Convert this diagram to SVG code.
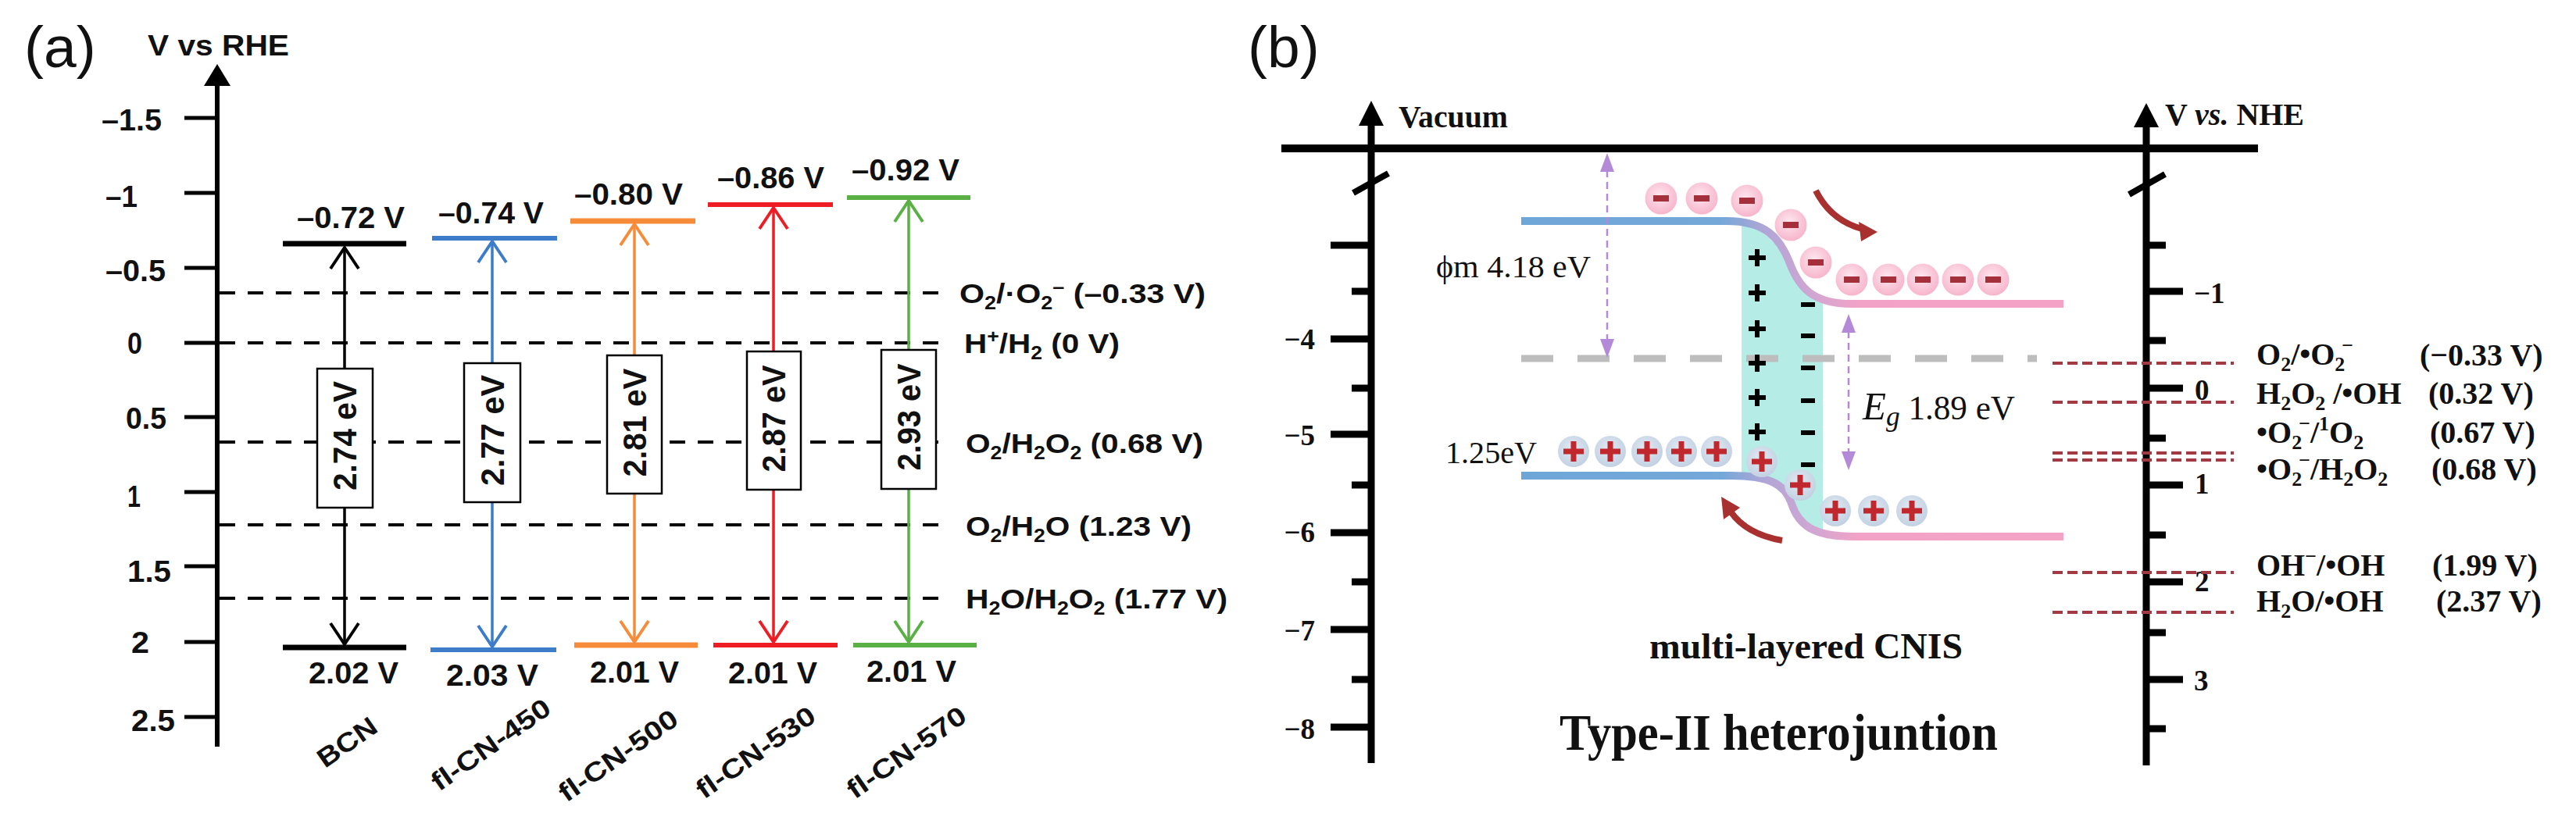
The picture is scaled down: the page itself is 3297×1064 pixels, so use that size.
<svg xmlns="http://www.w3.org/2000/svg" width="3297" height="1064" viewBox="0 0 3297 1064">
<defs>
<style>
.sa{font-family:"Liberation Sans",Arial,sans-serif;font-weight:bold;fill:#111}
.sr{font-family:"Liberation Sans",Arial,sans-serif;fill:#111}
.tb{font-family:"Liberation Serif","Times New Roman",serif;font-weight:bold;fill:#111}
.tr{font-family:"Liberation Serif","Times New Roman",serif;fill:#111}
.axa{stroke:#000;stroke-width:6;fill:none}
.ticka{stroke:#000;stroke-width:5;fill:none}
.ref{stroke:#000;stroke-width:4;stroke-dasharray:20 16;fill:none}
.box{fill:#fff;stroke:#000;stroke-width:2.5}
.shaft{stroke-width:3.5;fill:none}
.chev{stroke-width:4;fill:none;stroke-linejoin:miter}
.axb{stroke:#000;stroke-width:9;fill:none}
.tickb{stroke:#000;stroke-width:9;fill:none}
.rdash{stroke:#a23a44;stroke-width:4;stroke-dasharray:13 6;fill:none}
.pdash{stroke:#b48ad8;stroke-width:2.5;stroke-dasharray:9 6;fill:none}
.phead{fill:#b48ad8}
.band{stroke:url(#bandgrad);stroke-width:10;fill:none}
.redarrow{stroke:#a8302f;stroke-width:8;fill:none}
</style>
<linearGradient id="bandgrad" gradientUnits="userSpaceOnUse" x1="1947" y1="0" x2="2641" y2="0">
<stop offset="0" stop-color="#6fa6d8"/>
<stop offset="0.37" stop-color="#74a8d9"/>
<stop offset="0.45" stop-color="#b0a6d6"/>
<stop offset="0.55" stop-color="#d6a6d2"/>
<stop offset="0.62" stop-color="#f2a2c6"/>
<stop offset="1" stop-color="#f4a3c6"/>
</linearGradient>
<radialGradient id="egrad" cx="0.45" cy="0.4" r="0.6">
<stop offset="0" stop-color="#fde6ee"/>
<stop offset="1" stop-color="#f7b5cc"/>
</radialGradient>
<radialGradient id="hgrad" cx="0.45" cy="0.4" r="0.6">
<stop offset="0" stop-color="#e3eaf2"/>
<stop offset="1" stop-color="#c2d1e3"/>
</radialGradient>
<g id="electron">
<circle cx="0" cy="0" r="20.5" fill="url(#egrad)"/>
<rect x="-10" y="-4" width="20" height="8" fill="#a3303b"/>
</g>
<g id="hole">
<circle cx="0" cy="0" r="20" fill="url(#hgrad)"/>
<rect x="-13" y="-3.5" width="26" height="7" fill="#c0282e"/>
<rect x="-3.5" y="-13" width="7" height="26" fill="#c0282e"/>
</g>
<path id="bplus" d="M-11,0 H11 M0,-11 V11" stroke="#000" stroke-width="6" fill="none"/>
<path id="bminus" d="M-9,0 H9" stroke="#000" stroke-width="6" fill="none"/>
</defs>

<rect x="0" y="0" width="3297" height="1064" fill="#fff"/>

<!-- ===================== Panel (a) ===================== -->
<g id="panel-a-label"><text class="sr" x="31" y="86" font-size="75">(a)</text></g>

<g id="a-axis">
<path class="axa" d="M278,104 V956"/>
<polygon points="278,82 261,110 295,110" fill="#000"/>
<path class="ticka" d="M236,151 H278 M236,247 H278 M236,343 H278 M236,439 H278 M236,534 H278 M236,630 H278 M236,725 H278 M236,822 H278 M236,918 H278"/>
<text class="sa" x="189" y="71" font-size="36" textLength="181" lengthAdjust="spacingAndGlyphs">V vs RHE</text>
<g class="sa" font-size="38">
<text x="130" y="167" textLength="77" lengthAdjust="spacingAndGlyphs">–1.5</text>
<text x="135" y="265" textLength="41" lengthAdjust="spacingAndGlyphs">–1</text>
<text x="135" y="360" textLength="77" lengthAdjust="spacingAndGlyphs">–0.5</text>
<text x="163" y="453" textLength="19" lengthAdjust="spacingAndGlyphs">0</text>
<text x="161" y="549" textLength="52" lengthAdjust="spacingAndGlyphs">0.5</text>
<text x="163" y="649" textLength="17" lengthAdjust="spacingAndGlyphs">1</text>
<text x="163" y="745" textLength="56" lengthAdjust="spacingAndGlyphs">1.5</text>
<text x="168" y="836" textLength="23" lengthAdjust="spacingAndGlyphs">2</text>
<text x="168" y="936" textLength="56" lengthAdjust="spacingAndGlyphs">2.5</text>
</g>
</g>

<g id="a-ref-levels">
<g id="ref-O2-O2rad">
<path class="ref" d="M281,375 H1215"/>
<text class="sa" x="1228" y="388" font-size="35" textLength="315" lengthAdjust="spacingAndGlyphs">O<tspan dy="8" font-size="23">2</tspan><tspan dy="-8">/·O</tspan><tspan dy="8" font-size="23">2</tspan><tspan dy="-21" font-size="23">–</tspan><tspan dy="13"> (–0.33 V)</tspan></text>
</g>
<g id="ref-H-H2">
<path class="ref" d="M281,439 H1215"/>
<text class="sa" x="1234" y="452" font-size="35" textLength="199" lengthAdjust="spacingAndGlyphs">H<tspan dy="-13" font-size="23">+</tspan><tspan dy="13">/H</tspan><tspan dy="8" font-size="23">2</tspan><tspan dy="-8"> (0 V)</tspan></text>
</g>
<g id="ref-O2-H2O2">
<path class="ref" d="M281,566 H1215"/>
<text class="sa" x="1236" y="580" font-size="35" textLength="304" lengthAdjust="spacingAndGlyphs">O<tspan dy="8" font-size="23">2</tspan><tspan dy="-8">/H</tspan><tspan dy="8" font-size="23">2</tspan><tspan dy="-8">O</tspan><tspan dy="8" font-size="23">2</tspan><tspan dy="-8"> (0.68 V)</tspan></text>
</g>
<g id="ref-O2-H2O">
<path class="ref" d="M281,672 H1215"/>
<text class="sa" x="1236" y="686" font-size="35" textLength="289" lengthAdjust="spacingAndGlyphs">O<tspan dy="8" font-size="23">2</tspan><tspan dy="-8">/H</tspan><tspan dy="8" font-size="23">2</tspan><tspan dy="-8">O (1.23 V)</tspan></text>
</g>
<g id="ref-H2O-H2O2">
<path class="ref" d="M281,766 H1215"/>
<text class="sa" x="1236" y="779" font-size="35" textLength="335" lengthAdjust="spacingAndGlyphs">H<tspan dy="8" font-size="23">2</tspan><tspan dy="-8">O/H</tspan><tspan dy="8" font-size="23">2</tspan><tspan dy="-8">O</tspan><tspan dy="8" font-size="23">2</tspan><tspan dy="-8"> (1.77 V)</tspan></text>
</g>
</g>

<g id="col-BCN" stroke="#000">
<path d="M362,312 H520 M362,829 H520" stroke-width="7"/>
<path class="shaft" d="M441,472 V317 M441,650 V825"/>
<path class="chev" d="M423,344 L441,317 L459,344 M423,798 L441,825 L459,798"/>
<rect class="box" x="406" y="472" width="71" height="178"/>
<g stroke="none">
<text class="sa" transform="translate(441,558) rotate(-90)" x="0" y="15" text-anchor="middle" font-size="42" textLength="140" lengthAdjust="spacingAndGlyphs">2.74 eV</text>
<text class="sa" x="380" y="292" font-size="39" textLength="138" lengthAdjust="spacingAndGlyphs">–0.72 V</text>
<text class="sa" x="395" y="875" font-size="39" textLength="115" lengthAdjust="spacingAndGlyphs">2.02 V</text>
<text class="sa" transform="translate(444,950) rotate(-35)" x="0" y="12" text-anchor="middle" font-size="34" textLength="85" lengthAdjust="spacingAndGlyphs">BCN</text>
</g>
</g>

<g id="col-fl-CN-450" stroke="#3d7cc9">
<path d="M553,305 H713 M551,832 H712" stroke-width="6"/>
<path class="shaft" d="M630,465 V309 M630,643 V828"/>
<path class="chev" d="M612,336 L630,309 L648,336 M612,801 L630,828 L648,801"/>
<rect class="box" x="594" y="465" width="72" height="178"/>
<g stroke="none">
<text class="sa" transform="translate(630,551) rotate(-90)" x="0" y="15" text-anchor="middle" font-size="42" textLength="142" lengthAdjust="spacingAndGlyphs">2.77 eV</text>
<text class="sa" x="561" y="286" font-size="39" textLength="135" lengthAdjust="spacingAndGlyphs">–0.74 V</text>
<text class="sa" x="571" y="878" font-size="39" textLength="118" lengthAdjust="spacingAndGlyphs">2.03 V</text>
<text class="sa" transform="translate(628,953) rotate(-35)" x="0" y="12" text-anchor="middle" font-size="34" textLength="178" lengthAdjust="spacingAndGlyphs">fl-CN-450</text>
</g>
</g>

<g id="col-fl-CN-500" stroke="#f68b3a">
<path d="M730,283 H890 M735,826 H893" stroke-width="7"/>
<path class="shaft" d="M812,455 V287 M812,632 V822"/>
<path class="chev" d="M794,314 L812,287 L830,314 M794,795 L812,822 L830,795"/>
<rect class="box" x="777" y="455" width="70" height="177"/>
<g stroke="none">
<text class="sa" transform="translate(812,541) rotate(-90)" x="0" y="15" text-anchor="middle" font-size="42" textLength="139" lengthAdjust="spacingAndGlyphs">2.81 eV</text>
<text class="sa" x="735" y="262" font-size="39" textLength="139" lengthAdjust="spacingAndGlyphs">–0.80 V</text>
<text class="sa" x="755" y="874" font-size="39" textLength="114" lengthAdjust="spacingAndGlyphs">2.01 V</text>
<text class="sa" transform="translate(791,967) rotate(-35)" x="0" y="12" text-anchor="middle" font-size="34" textLength="178" lengthAdjust="spacingAndGlyphs">fl-CN-500</text>
</g>
</g>

<g id="col-fl-CN-530" stroke="#ee1d23">
<path d="M906,262 H1066 M913,826 H1072" stroke-width="6"/>
<path class="shaft" d="M990,450 V266 M990,627 V822"/>
<path class="chev" d="M972,293 L990,266 L1008,293 M972,795 L990,822 L1008,795"/>
<rect class="box" x="956" y="450" width="69" height="177"/>
<g stroke="none">
<text class="sa" transform="translate(990,536) rotate(-90)" x="0" y="15" text-anchor="middle" font-size="42" textLength="137" lengthAdjust="spacingAndGlyphs">2.87 eV</text>
<text class="sa" x="918" y="241" font-size="39" textLength="137" lengthAdjust="spacingAndGlyphs">–0.86 V</text>
<text class="sa" x="932" y="875" font-size="39" textLength="114" lengthAdjust="spacingAndGlyphs">2.01 V</text>
<text class="sa" transform="translate(967,963) rotate(-35)" x="0" y="12" text-anchor="middle" font-size="34" textLength="178" lengthAdjust="spacingAndGlyphs">fl-CN-530</text>
</g>
</g>

<g id="col-fl-CN-570" stroke="#5aaf45">
<path d="M1084,253 H1242 M1092,826 H1250" stroke-width="6"/>
<path class="shaft" d="M1163,448 V257 M1163,626 V822"/>
<path class="chev" d="M1145,284 L1163,257 L1181,284 M1145,795 L1163,822 L1181,795"/>
<rect class="box" x="1128" y="448" width="70" height="178"/>
<g stroke="none">
<text class="sa" transform="translate(1163,534) rotate(-90)" x="0" y="15" text-anchor="middle" font-size="42" textLength="137" lengthAdjust="spacingAndGlyphs">2.93 eV</text>
<text class="sa" x="1090" y="231" font-size="39" textLength="138" lengthAdjust="spacingAndGlyphs">–0.92 V</text>
<text class="sa" x="1109" y="873" font-size="39" textLength="115" lengthAdjust="spacingAndGlyphs">2.01 V</text>
<text class="sa" transform="translate(1160,963) rotate(-35)" x="0" y="12" text-anchor="middle" font-size="34" textLength="178" lengthAdjust="spacingAndGlyphs">fl-CN-570</text>
</g>
</g>

<!-- ===================== Panel (b) ===================== -->
<g id="panel-b-label"><text class="sr" x="1597" y="86" font-size="75">(b)</text></g>

<g id="b-vacuum-axis">
<path class="axb" d="M1755,156 V977"/>
<polygon points="1755,129 1739,161 1771,161" fill="#000"/>
<path d="M1640,190 H2890" stroke="#000" stroke-width="10"/>
<path d="M1732,247 L1777,222" stroke="#000" stroke-width="8"/>
<path class="tickb" d="M1703,314 H1755 M1703,434 H1755 M1703,556 H1755 M1703,682 H1755 M1703,806 H1755 M1703,931 H1755"/>
<path class="tickb" d="M1730,373 H1755 M1730,497 H1755 M1730,621 H1755 M1730,745 H1755 M1730,870 H1755"/>
<text class="tb" x="1790" y="163" font-size="39" textLength="140" lengthAdjust="spacingAndGlyphs">Vacuum</text>
<g class="tb" font-size="37" text-anchor="end">
<text x="1683" y="447">−4</text>
<text x="1683" y="570">−5</text>
<text x="1683" y="694">−6</text>
<text x="1683" y="820">−7</text>
<text x="1683" y="946">−8</text>
</g>
</g>

<g id="b-nhe-axis">
<path class="axb" d="M2747,158 V980"/>
<polygon points="2747,132 2731,163 2763,163" fill="#000"/>
<path d="M2725,249 L2771,223" stroke="#000" stroke-width="8"/>
<path class="tickb" d="M2747,373 H2794 M2747,497 H2794 M2747,621 H2794 M2747,745 H2794 M2747,870 H2794"/>
<path class="tickb" d="M2747,314 H2772 M2747,436 H2772 M2747,561 H2772 M2747,685 H2772 M2747,810 H2772 M2747,933 H2772"/>
<text class="tb" x="2771" y="160" font-size="39" textLength="178" lengthAdjust="spacingAndGlyphs">V <tspan font-style="italic">vs.</tspan> NHE</text>
<g class="tb" font-size="37">
<text x="2808" y="388">−1</text>
<text x="2809" y="512">0</text>
<text x="2809" y="632">1</text>
<text x="2809" y="757">2</text>
<text x="2808" y="884">3</text>
</g>
</g>

<g id="b-junction">
<path id="depletion" d="M2229,287 C2255,292 2275,310 2288,335 C2300,362 2312,378 2333,383 L2333,680 C2318,676 2305,668 2296,652 C2285,625 2265,612 2229,609 Z" fill="#b5ece6"/>
<path id="fermi" d="M1947,459 H2607" stroke="#bdbdbd" stroke-width="9" stroke-dasharray="41 31"/>
<path id="cb" class="band" d="M1947,283 L2210,283 C2260,283 2278,305 2290,335 C2302,368 2320,389 2370,389 L2641,389"/>
<path id="vb" class="band" d="M1947,609 L2215,609 C2265,609 2285,620 2293,645 C2302,672 2320,687 2373,687 L2641,687"/>
<g id="space-charge">
<use href="#bplus" x="2249" y="330"/>
<use href="#bplus" x="2249" y="375"/>
<use href="#bplus" x="2249" y="421"/>
<use href="#bplus" x="2249" y="465"/>
<use href="#bplus" x="2249" y="509"/>
<use href="#bplus" x="2249" y="553"/>
<use href="#bminus" x="2314" y="390"/>
<use href="#bminus" x="2314" y="430"/>
<use href="#bminus" x="2314" y="471"/>
<use href="#bminus" x="2314" y="513"/>
<use href="#bminus" x="2314" y="554"/>
<use href="#bminus" x="2314" y="595"/>
</g>
<g id="electrons">
<use href="#electron" x="2126" y="254"/>
<use href="#electron" x="2178" y="254"/>
<use href="#electron" x="2236" y="257"/>
<use href="#electron" x="2292" y="288"/>
<use href="#electron" x="2324" y="336"/>
<use href="#electron" x="2370" y="358"/>
<use href="#electron" x="2417" y="358"/>
<use href="#electron" x="2461" y="358"/>
<use href="#electron" x="2506" y="358"/>
<use href="#electron" x="2551" y="358"/>
</g>
<g id="holes">
<use href="#hole" x="2014" y="578"/>
<use href="#hole" x="2061" y="578"/>
<use href="#hole" x="2108" y="578"/>
<use href="#hole" x="2152" y="578"/>
<use href="#hole" x="2197" y="578"/>
<use href="#hole" x="2255" y="591"/>
<use href="#hole" x="2304" y="621"/>
<use href="#hole" x="2349" y="654"/>
<use href="#hole" x="2398" y="654"/>
<use href="#hole" x="2447" y="654"/>
</g>
<g id="phi-arrow">
<path class="pdash" d="M2057,218 V436"/>
<polygon class="phead" points="2057,196 2048,220 2066,220"/>
<polygon class="phead" points="2057,458 2048,434 2066,434"/>
</g>
<g id="eg-arrow">
<path class="pdash" d="M2366,424 V580"/>
<polygon class="phead" points="2366,402 2357,426 2375,426"/>
<polygon class="phead" points="2366,602 2357,578 2375,578"/>
</g>
<g id="transfer-arrows">
<path class="redarrow" d="M2324,244 Q2343,282 2383,293"/>
<polygon points="2403,297 2379,284 2382,309" fill="#a8302f"/>
<path class="redarrow" d="M2281,692 Q2235,684 2215,655"/>
<polygon points="2203,636 2227,650 2206,665" fill="#a8302f"/>
</g>
<text class="tr" x="1838" y="355" font-size="40" textLength="198" lengthAdjust="spacingAndGlyphs">ϕm 4.18 eV</text>
<text class="tr" x="2384" y="537" textLength="195" lengthAdjust="spacingAndGlyphs"><tspan font-style="italic" font-size="50">E</tspan><tspan font-style="italic" font-size="36" dy="8">g</tspan><tspan dy="-8" font-size="44"> 1.89 eV</tspan></text>
<text class="tr" x="1850" y="593" font-size="40" textLength="117" lengthAdjust="spacingAndGlyphs">1.25eV</text>
<text class="tb" x="2111" y="843" font-size="46" textLength="401" lengthAdjust="spacingAndGlyphs">multi-layered CNIS</text>
<text class="tb" x="1996" y="960" font-size="66" textLength="561" lengthAdjust="spacingAndGlyphs">Type-II heterojuntion</text>
</g>

<g id="b-redox-levels">
<g id="lvl-O2-O2rad">
<path class="rdash" d="M2627,465 H2859"/>
<text class="tb" x="2888" y="467" font-size="40">O<tspan dy="8" font-size="26">2</tspan><tspan dy="-8">/•O</tspan><tspan dy="8" font-size="26">2</tspan><tspan dx="-4" dy="-24" font-size="26">−</tspan></text>
<text class="tb" x="3097" y="468" font-size="40">(−0.33 V)</text>
</g>
<g id="lvl-H2O2-OH">
<path class="rdash" d="M2627,515 H2859"/>
<text class="tb" x="2888" y="517" font-size="40">H<tspan dy="8" font-size="26">2</tspan><tspan dy="-8">O</tspan><tspan dy="8" font-size="26">2</tspan><tspan dy="-8"> /•OH</tspan></text>
<text class="tb" x="3108" y="517" font-size="40">(0.32 V)</text>
</g>
<g id="lvl-O2rad-1O2">
<path class="rdash" d="M2627,580 H2859"/>
<text class="tb" x="2888" y="567" font-size="40">•O<tspan dy="8" font-size="26">2</tspan><tspan dx="-4" dy="-24" font-size="26">−</tspan><tspan dy="16">/</tspan><tspan dy="-16" font-size="26">1</tspan><tspan dy="16">O</tspan><tspan dy="8" font-size="26">2</tspan></text>
<text class="tb" x="3110" y="567" font-size="40">(0.67 V)</text>
</g>
<g id="lvl-O2rad-H2O2">
<path class="rdash" d="M2627,589 H2859"/>
<text class="tb" x="2888" y="614" font-size="40">•O<tspan dy="8" font-size="26">2</tspan><tspan dx="-4" dy="-24" font-size="26">−</tspan><tspan dy="16">/H</tspan><tspan dy="8" font-size="26">2</tspan><tspan dy="-8">O</tspan><tspan dy="8" font-size="26">2</tspan></text>
<text class="tb" x="3112" y="614" font-size="40">(0.68 V)</text>
</g>
<g id="lvl-OH-OHrad">
<path class="rdash" d="M2627,733 H2859"/>
<text class="tb" x="2888" y="737" font-size="40">OH<tspan dy="-16" font-size="26">−</tspan><tspan dy="16">/•OH</tspan></text>
<text class="tb" x="3113" y="737" font-size="40">(1.99 V)</text>
</g>
<g id="lvl-H2O-OHrad">
<path class="rdash" d="M2627,784 H2859"/>
<text class="tb" x="2888" y="783" font-size="40">H<tspan dy="8" font-size="26">2</tspan><tspan dy="-8">O/•OH</tspan></text>
<text class="tb" x="3118" y="783" font-size="40">(2.37 V)</text>
</g>
</g>
</svg>
